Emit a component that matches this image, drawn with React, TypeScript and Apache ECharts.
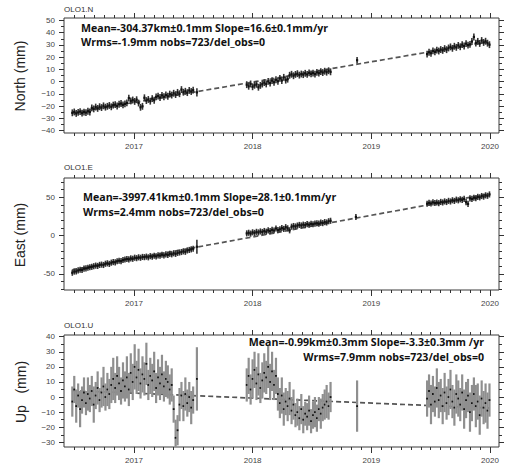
import React, { useEffect, useRef } from 'react';
import * as echarts from 'echarts';

// ---------- sampling of the time series (decimal years) ----------
const STEP = 6 / 365.25;
const SEG_START = [2016.48, 2017.95, 2019.47];

// ---------- North (mm) ----------
const NORTH_SEG1 = [
  -25.5, -24.8, -26.0, -25.2, -24.5, -25.8, -24.9, -25.3, -24.2, -24.8,
  -21.5, -22.3, -20.8, -21.9, -20.5, -21.2, -19.8, -20.9, -20.2, -19.5,
  -20.6, -19.2, -18.8, -19.9, -18.5, -17.9, -19.0, -18.2, -17.4, -13.5,
  -15.8, -15.0, -16.2, -14.8, -17.5, -21.0, -20.2, -13.2, -15.5, -14.6,
  -16.0, -13.9, -15.2, -12.5, -11.8, -13.0, -11.2, -12.4, -10.9, -12.0,
  -10.2, -11.0, -9.5, -10.6, -8.8, -9.9, -6.5, -8.7, -7.9, -9.0,
  -7.2, -8.1, -7.0,
];
const NORTH_SEG2 = [
  -2.5, -3.8, -1.9, -4.2, -3.0, -2.2, -4.6, -3.1, -2.0, -0.8,
  -1.9, 0.2, -1.2, 0.8, -0.5, 1.5, 0.3, 2.6, 0.9, 3.5,
  1.2, 2.0, 5.2, 6.0, 4.8, 5.9, 6.5, 5.3, 6.2, 5.7,
  6.8, 5.9, 7.2, 6.3, 7.0, 6.1, 7.6, 6.9, 8.2, 7.4,
  8.5, 7.7, 8.9, 8.0,
];
const NORTH_SEG3 = [
  22.5, 24.0, 23.2, 25.1, 24.3, 25.8, 25.0, 26.2, 25.5, 27.0,
  26.1, 27.5, 28.4, 27.2, 28.9, 28.0, 29.6, 28.5, 30.2, 29.1,
  31.0, 29.8, 30.5, 32.8, 36.5, 31.5, 32.9, 31.2, 33.6, 32.0,
  33.0, 31.4, 30.2,
];
const NORTH_ERR = 2.8;
const NORTH_SINGLE_T = [2017.53, 2018.88];
const NORTH_SINGLE_V = [-8.8, 17.5];
const NORTH_SINGLE_E = [3.4, 2.7];
const NORTH_TREND_T = [2016.48, 2020.0];
const NORTH_TREND_V = [-25.6, 32.8];

// ---------- East (mm) ----------
const EAST_SEG1 = [
  -48.5, -47.0, -46.8, -45.5, -44.6, -44.9, -43.2, -42.8, -42.0, -41.3,
  -40.8, -40.0, -39.2, -39.6, -38.3, -37.9, -38.4, -36.8, -36.2, -37.0,
  -35.4, -34.6, -34.9, -33.5, -32.8, -33.4, -31.9, -31.2, -30.6, -31.0,
  -29.8, -30.3, -28.9, -29.5, -28.4, -29.0, -27.9, -28.2, -27.5, -28.4,
  -26.9, -27.6, -26.3, -27.1, -25.8, -26.2, -25.1, -25.9, -24.6, -25.2,
  -23.8, -24.5, -23.1, -23.9, -22.6, -22.1, -21.5, -20.6, -21.2, -19.4,
  -18.8, -18.0, -17.2,
];
const EAST_SEG2 = [
  2.8, 3.6, 2.5, 4.2, 3.4, 4.8, 4.0, 5.3, 4.6, 5.9,
  5.0, 6.8, 5.7, 7.4, 6.5, 9.2, 7.0, 8.1, 9.8, 8.6,
  10.9, 9.4, 6.8, 11.5, 12.4, 11.8, 13.0, 13.8, 13.1, 14.2,
  13.6, 14.8, 14.1, 15.3, 14.7, 15.6, 16.0, 15.5, 16.8, 16.2,
  17.5, 17.0, 18.6, 19.2,
];
const EAST_SEG3 = [
  41.5, 42.6, 41.8, 43.2, 42.4, 43.0, 42.2, 43.8, 43.1, 44.5,
  43.7, 45.2, 44.4, 46.0, 45.1, 46.8, 45.9, 47.2, 46.5, 47.8,
  43.5, 41.2, 48.5, 47.7, 49.3, 48.6, 50.4, 49.8, 51.5, 50.7,
  52.4, 51.8, 53.6,
];
const EAST_ERR = 4;
const EAST_SINGLE_T = [2017.53, 2018.87];
const EAST_SINGLE_V = [-14.6, 24.2];
const EAST_SINGLE_E = [9, 3.8];
const EAST_TREND_T = [2016.48, 2020.0];
const EAST_TREND_V = [-44.7, 54.6];

// ---------- Up (mm) ----------
const UP_SEG1 = [
  -3, 5, -6, 1, -8, -2, 3, -4, 2, -1,
  4, -5, 1, 6, -2, 3, 7, 0, 5, 2,
  8, 12, 6, 14, 9, 4, 11, 7, 13, 5,
  16, 10, 20, 13, 18, 9, 15, 12, 22, 8,
  14, 11, 17, 6, 13, 9, 15, 7, 12, 10,
  5, 8, -8, -27, -22, -5, 1, -6, 2, -4,
  0, -7, -2,
];
const UP_ERR1 = [
  10, 9, 11, 8, 12, 9, 10, 8, 11, 9,
  10, 12, 9, 11, 8, 10, 13, 9, 11, 10,
  12, 14, 10, 13, 11, 9, 12, 10, 14, 11,
  13, 12, 15, 11, 14, 10, 12, 11, 14, 10,
  12, 11, 13, 10, 12, 11, 13, 10, 12, 11,
  10, 11, 9, 12, 10, 11, 9, 10, 11, 9,
  10, 11, 9,
];
const UP_SEG2 = [
  8, 14, 5, 12, 18, 9, 15, 6, 11, 16,
  13, 20, 10, 17, 8, 14, 2, -4, 1, -8,
  -3, -6, -1, -9, -5, -12, -10, -14, -8, -15,
  -11, -13, -9, -16, -12, -10, -14, -8, -11, -7,
  -5, -3, -6, 0,
];
const UP_ERR2 = [
  11, 12, 10, 13, 12, 11, 14, 10, 12, 13,
  11, 14, 12, 13, 10, 12, 11, 10, 12, 11,
  9, 10, 11, 9, 10, 8, 9, 8, 10, 9,
  8, 9, 10, 8, 9, 10, 9, 8, 10, 9,
  10, 11, 9, 10,
];
const UP_SEG3 = [
  -1, 4, -5, 2, -3, 6, -2, 1, -6, 3,
  -4, 0, 5, -3, -7, 2, -1, -5, 3, -8,
  -2, 1, -10, -4, 2, -6, -3, -12, -1, -7,
  -4, -9, -2,
];
const UP_ERR3 = [
  12, 11, 13, 12, 10, 13, 12, 11, 12, 13,
  11, 12, 13, 11, 12, 13, 12, 11, 12, 13,
  12, 11, 13, 12, 11, 14, 12, 13, 12, 11,
  13, 12, 11,
];
const UP_SINGLE_T = [2017.53, 2018.88];
const UP_SINGLE_V = [12, -6];
const UP_SINGLE_E = [21, 17];
const UP_TREND_T = [2016.48, 2020.0];
const UP_TREND_V = [4.3, -7.3];

// ---------- axes ----------
const YEAR_TICKS = [2017, 2018, 2019, 2020];
const NORTH_TICKS = [-40, -30, -20, -10, 0, 10, 20, 30, 40, 50];
const EAST_TICKS = [-50, 0, 50];
const UP_TICKS = [-30, -20, -10, 0, 10, 20, 30, 40];

const X_MIN = 2016.41;
const X_MAX = 2020.076;

function range(a: number, b: number, s: number) {
  const out: number[] = [];
  for (let v = a; v <= b + 1e-9; v += s) out.push(Math.round(v * 1000) / 1000);
  return out;
}
const MONTH_TICKS = range(0, 42, 1).map((k) => 2016.5 + k / 12);

function buildData(
  segs: number[][],
  errs: (number | number[])[],
  st: number[],
  sv: number[],
  se: number[]
) {
  const out: number[][] = [];
  segs.forEach((seg, s) => {
    seg.forEach((v, i) => {
      const e = errs[s];
      out.push([SEG_START[s] + i * STEP, v, Array.isArray(e) ? e[i] : e]);
    });
  });
  st.forEach((t, i) => out.push([t, sv[i], se[i]]));
  return out;
}

const minus = (v: number) => (v < 0 ? '\u2212' + Math.abs(v) : String(v));

const PANELS = [
  {
    top: 18, height: 115, min: -42, max: 52,
    ticks: NORTH_TICKS, minor: range(-40, 50, 5), fmt: minus,
    data: buildData([NORTH_SEG1, NORTH_SEG2, NORTH_SEG3], [NORTH_ERR, NORTH_ERR, NORTH_ERR], NORTH_SINGLE_T, NORTH_SINGLE_V, NORTH_SINGLE_E),
    trend: NORTH_TREND_T.map((t, i) => [t, NORTH_TREND_V[i]]),
    bar: '#333333', barW: 1.6, dot: 2.2,
  },
  {
    top: 178, height: 112, min: -71, max: 75,
    ticks: EAST_TICKS, minor: range(-70, 70, 10), fmt: (v: number) => String(v),
    data: buildData([EAST_SEG1, EAST_SEG2, EAST_SEG3], [EAST_ERR, EAST_ERR, EAST_ERR], EAST_SINGLE_T, EAST_SINGLE_V, EAST_SINGLE_E),
    trend: EAST_TREND_T.map((t, i) => [t, EAST_TREND_V[i]]),
    bar: '#333333', barW: 1.6, dot: 2.2,
  },
  {
    top: 335, height: 112, min: -33.1, max: 41.1,
    ticks: UP_TICKS, minor: range(-30, 40, 5), fmt: minus,
    data: buildData([UP_SEG1, UP_SEG2, UP_SEG3], [UP_ERR1, UP_ERR2, UP_ERR3], UP_SINGLE_T, UP_SINGLE_V, UP_SINGLE_E),
    trend: UP_TREND_T.map((t, i) => [t, UP_TREND_V[i]]),
    bar: '#8f8f8f', barW: 2.2, dot: 1.8,
  },
];

const TICK_COLOR = '#333';
const LABEL_FONT = 'Liberation Sans';

function xAxesFor(g: number) {
  const base = {
    type: 'value', gridIndex: g, min: X_MIN, max: X_MAX,
    splitLine: { show: false }, axisLine: { show: false, onZero: false },
  };
  const tick = (vals: number[], len: number) => ({
    show: true, customValues: vals, length: len, inside: false,
    lineStyle: { color: TICK_COLOR, width: 1 },
  });
  return [
    {
      ...base, position: 'bottom', axisTick: tick(YEAR_TICKS, 6),
      axisLabel: {
        show: true, customValues: YEAR_TICKS, formatter: (v: number) => String(Math.round(v)),
        fontSize: 8, color: '#444', margin: 9, fontFamily: LABEL_FONT,
      },
    },
    { ...base, position: 'bottom', axisTick: tick(MONTH_TICKS, 3), axisLabel: { show: false } },
    { ...base, position: 'top', axisTick: tick(YEAR_TICKS, 5), axisLabel: { show: false } },
    { ...base, position: 'top', axisTick: tick(MONTH_TICKS, 3), axisLabel: { show: false } },
  ];
}

function yAxesFor(g: number) {
  const p = PANELS[g];
  const base = {
    type: 'value', gridIndex: g, min: p.min, max: p.max,
    splitLine: { show: false }, axisLine: { show: false, onZero: false },
  };
  const tick = (vals: number[], len: number) => ({
    show: true, customValues: vals, length: len, inside: false,
    lineStyle: { color: TICK_COLOR, width: 1 },
  });
  return [
    {
      ...base, position: 'left', axisTick: tick(p.ticks, 5),
      axisLabel: {
        show: true, customValues: p.ticks, formatter: p.fmt,
        fontSize: 8, color: '#444', margin: 9, fontFamily: LABEL_FONT,
      },
    },
    { ...base, position: 'left', axisTick: tick(p.minor, 3), axisLabel: { show: false } },
    { ...base, position: 'right', axisTick: tick(p.ticks, 5), axisLabel: { show: false } },
    { ...base, position: 'right', axisTick: tick(p.minor, 3), axisLabel: { show: false } },
  ];
}

function seriesFor(g: number) {
  const p = PANELS[g];
  return [
    {
      type: 'line', xAxisIndex: 4 * g, yAxisIndex: 4 * g, data: p.trend,
      symbol: 'none', silent: true, z: 1,
      lineStyle: { color: '#555', width: 1.7, type: [5, 3] },
    },
    {
      type: 'custom', xAxisIndex: 4 * g, yAxisIndex: 4 * g, data: p.data, clip: true, z: 2,
      encode: { x: 0, y: 1 }, silent: true,
      renderItem: (_params: any, api: any) => {
        const t = api.value(0);
        const v = api.value(1);
        const e = api.value(2);
        const a = api.coord([t, v + e]);
        const b = api.coord([t, v - e]);
        const c = api.coord([t, v]);
        return {
          type: 'group',
          children: [
            { type: 'line', shape: { x1: a[0], y1: a[1], x2: b[0], y2: b[1] }, style: { stroke: p.bar, lineWidth: p.barW } },
            { type: 'rect', shape: { x: c[0] - p.dot / 2, y: c[1] - p.dot / 2, width: p.dot, height: p.dot }, style: { fill: '#111' } },
          ],
        };
      },
    },
  ];
}

const ANNOT_FONT = 'bold 10.6px "Open Sans"';

function txt(text: string, x: number, y: number, font: string, fill: string, align = 'left', rotation = 0) {
  return {
    type: 'text', x, y, rotation, silent: true, z: 100,
    style: { text, font, fill, textAlign: align, textVerticalAlign: 'middle' },
  };
}

const NBSP = '\u00a0';

export default function App() {
  const ref = useRef<HTMLDivElement>(null);
  useEffect(() => {
    document.body.style.margin = '0';
    const chart = echarts.init(ref.current!, null, { renderer: 'svg' });
    const option: any = {
      animation: false,
      backgroundColor: '#ffffff',
      grid: PANELS.map((p) => ({
        left: 64, right: 11, top: p.top, height: p.height, show: true,
        borderColor: '#3a3a3a', borderWidth: 1, backgroundColor: 'transparent',
        containLabel: false, outerBoundsMode: 'none',
      })),
      xAxis: [0, 1, 2].flatMap((g) => xAxesFor(g)),
      yAxis: [0, 1, 2].flatMap((g) => yAxesFor(g)),
      series: [0, 1, 2].flatMap((g) => seriesFor(g)),
      graphic: [
        txt('OLO1.N', 64, 9, '8px "Liberation Sans"', '#333'),
        txt('OLO1.E', 64, 167, '8px "Liberation Sans"', '#333'),
        txt('OLO1.U', 64, 325, '8px "Liberation Sans"', '#333'),
        txt('North (mm)', 20, 76, '14px "Liberation Sans"', '#222', 'center', Math.PI / 2),
        txt('East (mm)', 20, 235, '14px "Liberation Sans"', '#222', 'center', Math.PI / 2),
        txt('Up' + NBSP + NBSP + NBSP + '(mm)', 21, 392, '14px "Liberation Sans"', '#222', 'center', Math.PI / 2),
        txt('Mean=-304.37km\u00b10.1mm Slope=16.6\u00b10.1mm/yr', 81, 28, ANNOT_FONT, '#111'),
        txt('Wrms=-1.9mm nobs=723/del_obs=0', 81, 41.5, ANNOT_FONT, '#111'),
        txt('Mean=-3997.41km\u00b10.1mm Slope=28.1\u00b10.1mm/yr', 83, 197, ANNOT_FONT, '#111'),
        txt('Wrms=2.4mm nobs=723/del_obs=0', 83, 212, ANNOT_FONT, '#111'),
        txt('Mean=-0.99km\u00b10.3mm Slope=-3.3\u00b10.3mm /yr', 484, 342, ANNOT_FONT, '#111', 'right'),
        txt('Wrms=7.9mm nobs=723/del_obs=0', 484, 357, ANNOT_FONT, '#111', 'right'),
      ],
    };
    chart.setOption(option);
    return () => chart.dispose();
  }, []);
  return <div ref={ref} style={{ width: 510, height: 468 }} />;
}
